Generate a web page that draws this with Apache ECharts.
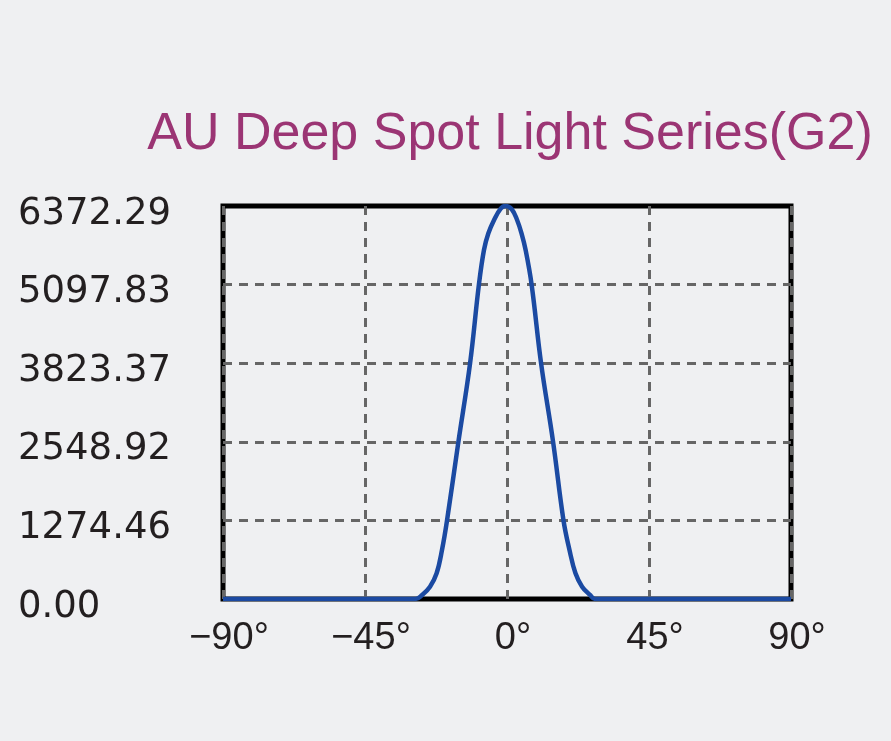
<!DOCTYPE html>
<html>
<head>
<meta charset="utf-8">
<script src="https://cdn.jsdelivr.net/npm/echarts@6/dist/echarts.min.js"></script>
<style>
  html, body { margin: 0; padding: 0; background: #eff0f2; }
  #echarts { width: 891px; height: 741px; }
</style>
</head>
<body>
<div id="echarts"></div>
<script>
var titleText = 'AU Deep Spot Light Series(G2)';
var xTicks = [-90, -45, 0, 45, 90];
var yMax = 6372.29;
// beam angle (deg) and intensity
var angles = [-90, -29, -26.9, -24.4, -22.3, -20.6, -19.0, -15.4, -11.7, -8.9, -7.3, -5.9, -4.1, -2, -0.5, 1.5, 3.2, 4.6, 5.9, 7.8, 10.8, 14.6, 17.9, 19.8, 21.7, 23.8, 26.3, 27.9, 90];
var intensity = [0, 0, 65, 200, 417, 794, 1274, 2549, 3823, 5098, 5659, 5929, 6145, 6330, 6372, 6320, 6145, 5929, 5659, 5098, 3823, 2549, 1274, 794, 417, 200, 65, 0, 0];

var points = angles.map(function (a, i) { return [a, intensity[i]]; });

var myChart = echarts.init(document.getElementById('echarts'));
var option = {
    backgroundColor: '#eff0f2',
    animation: false,
    title: {
        text: titleText,
        left: 505,
        top: 104,
        textAlign: 'center',
        textStyle: {
            color: '#9b3574',
            fontSize: 52,
            fontWeight: 'normal',
            fontFamily: 'Liberation Sans'
        }
    },
    grid: {
        left: 223,
        right: 100,
        top: 206,
        bottom: 142,
        show: true,
        borderColor: '#000',
        borderWidth: 5,
        backgroundColor: 'transparent'
    },
    xAxis: {
        type: 'value',
        min: xTicks[0],
        max: xTicks[xTicks.length - 1],
        interval: 45,
        axisLine: { show: false },
        axisTick: { show: false },
        axisLabel: {
            margin: 21,
            color: '#231f20',
            fontSize: 38,
            fontFamily: 'Liberation Sans',
            padding: [0, 0, 0, 12],
            formatter: function (v) {
                return (v < 0 ? '\u2212' + Math.abs(v) : v) + '°';
            }
        },
        splitLine: {
            show: true,
            lineStyle: { color: '#666', width: 3, type: [9, 7] }
        }
    },
    yAxis: {
        type: 'value',
        min: 0,
        max: yMax,
        interval: yMax / 5,
        axisLine: { show: false },
        axisTick: { show: false },
        axisLabel: {
            margin: 205,
            align: 'left',
            verticalAlign: 'top',
            lineHeight: 16,
            color: '#231f20',
            fontSize: 37,
            fontFamily: 'DejaVu Sans',
            formatter: function (v) { return v.toFixed(2); }
        },
        splitLine: {
            show: true,
            showMinLine: false,
            showMaxLine: false,
            lineStyle: { color: '#666', width: 3, type: [9, 7] }
        }
    },
    series: [
        {
            type: 'line',
            data: points,
            smooth: 0.4,
            symbol: 'none',
            lineStyle: { color: '#1b4aa2', width: 4.5 },
            z: 5
        }
    ]
};
myChart.setOption(option);
</script>
</body>
</html>
